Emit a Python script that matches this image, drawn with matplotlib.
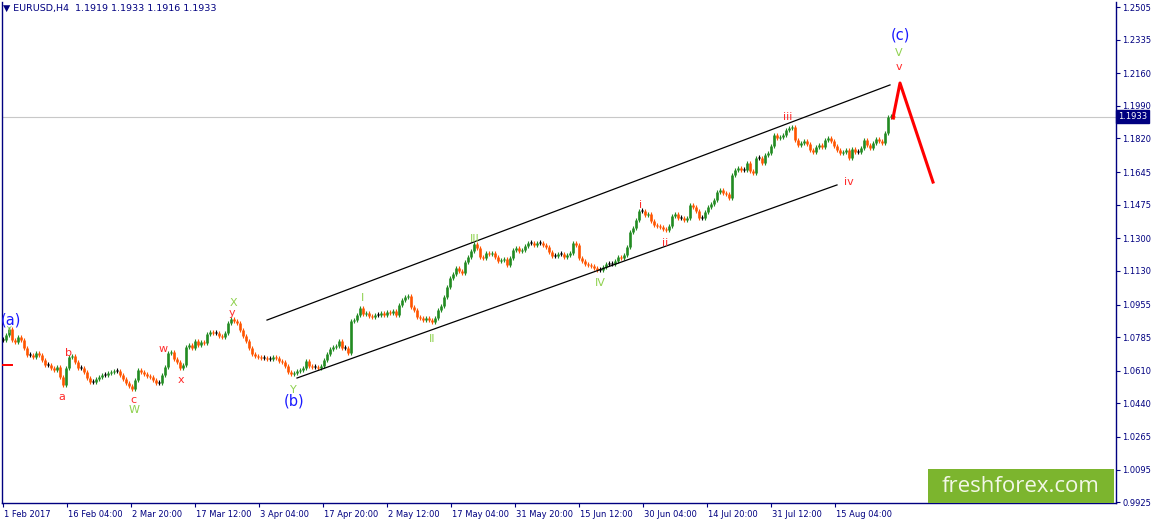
import numpy as np
import matplotlib
matplotlib.use('Agg')
import matplotlib.pyplot as plt
import matplotlib.transforms as mtransforms

# ── Datos (EURUSD H4, un valor cada 3 velas) ────────────────────────────
STEP = 3
closes = [
    1.0770, 1.0796, 1.0827, 1.0770, 1.0760, 1.0786, 1.0770, 1.0728, 1.0692, 1.0692,
    1.0682, 1.0702, 1.0692, 1.0666, 1.0640, 1.0640, 1.0624, 1.0614, 1.0629, 1.0577,
    1.0536, 1.0624, 1.0682, 1.0687, 1.0656, 1.0624, 1.0624, 1.0603, 1.0572, 1.0551,
    1.0551, 1.0567, 1.0577, 1.0588, 1.0588, 1.0598, 1.0603, 1.0609, 1.0609, 1.0588,
    1.0567, 1.0546, 1.0530, 1.0515, 1.0562, 1.0614, 1.0603, 1.0593, 1.0583, 1.0577,
    1.0562, 1.0546, 1.0546, 1.0588, 1.0629, 1.0702, 1.0708, 1.0671, 1.0656, 1.0624,
    1.0640, 1.0734, 1.0744, 1.0728, 1.0765, 1.0744, 1.0760, 1.0754, 1.0801, 1.0812,
    1.0807, 1.0807, 1.0791, 1.0786, 1.0807, 1.0859, 1.0880, 1.0869, 1.0859, 1.0822,
    1.0791, 1.0765, 1.0728, 1.0697, 1.0687, 1.0682, 1.0676, 1.0676, 1.0671, 1.0671,
    1.0682, 1.0676, 1.0661, 1.0656, 1.0635, 1.0603, 1.0593, 1.0598, 1.0609, 1.0614,
    1.0624, 1.0661, 1.0635, 1.0629, 1.0629, 1.0624, 1.0635, 1.0666, 1.0697, 1.0723,
    1.0734, 1.0739, 1.0765, 1.0728, 1.0728, 1.0702, 1.0869, 1.0874, 1.0900, 1.0937,
    1.0906, 1.0911, 1.0895, 1.0890, 1.0900, 1.0900, 1.0911, 1.0900, 1.0916, 1.0911,
    1.0921, 1.0900, 1.0952, 1.0979, 1.0994, 1.0999, 1.0942, 1.0926, 1.0890, 1.0885,
    1.0874, 1.0885, 1.0874, 1.0864, 1.0885, 1.0926, 1.0947, 1.0994, 1.1046, 1.1093,
    1.1114, 1.1145, 1.1130, 1.1119, 1.1176, 1.1203, 1.1234, 1.1270, 1.1249, 1.1203,
    1.1197, 1.1223, 1.1218, 1.1223, 1.1203, 1.1182, 1.1187, 1.1192, 1.1161, 1.1197,
    1.1239, 1.1249, 1.1234, 1.1239, 1.1260, 1.1276, 1.1276, 1.1265, 1.1276, 1.1276,
    1.1265, 1.1255, 1.1229, 1.1208, 1.1208, 1.1218, 1.1218, 1.1203, 1.1213, 1.1223,
    1.1276, 1.1265, 1.1197, 1.1182, 1.1166, 1.1161, 1.1156, 1.1145, 1.1135, 1.1135,
    1.1150, 1.1166, 1.1166, 1.1166, 1.1182, 1.1203, 1.1197, 1.1213, 1.1255, 1.1333,
    1.1354, 1.1395, 1.1442, 1.1442, 1.1421, 1.1427, 1.1390, 1.1369, 1.1364, 1.1359,
    1.1348, 1.1343, 1.1364, 1.1416, 1.1427, 1.1406, 1.1406, 1.1395, 1.1406, 1.1473,
    1.1463, 1.1442, 1.1406, 1.1406, 1.1437, 1.1463, 1.1479, 1.1500, 1.1541, 1.1552,
    1.1536, 1.1531, 1.1510, 1.1630, 1.1656, 1.1666, 1.1656, 1.1656, 1.1692, 1.1651,
    1.1640, 1.1718, 1.1718, 1.1692, 1.1734, 1.1744, 1.1781, 1.1838, 1.1823, 1.1828,
    1.1838, 1.1864, 1.1875, 1.1880, 1.1812, 1.1786, 1.1796, 1.1807, 1.1791, 1.1760,
    1.1750, 1.1776, 1.1786, 1.1776, 1.1812, 1.1823, 1.1807, 1.1781, 1.1760, 1.1744,
    1.1750, 1.1760, 1.1718, 1.1765, 1.1750, 1.1750, 1.1770, 1.1812, 1.1786, 1.1770,
    1.1796, 1.1817, 1.1807, 1.1796, 1.1849, 1.1932, 1.1937, 1.1933,
]
last_price = 1.1933
header = '\u25bc EURUSD,H4  1.1919 1.1933 1.1916 1.1933'

# eje X: una etiqueta cada 64 velas
date_labels = ['1 Feb 2017', '16 Feb 04:00', '2 Mar 20:00', '17 Mar 12:00',
               '3 Apr 04:00', '17 Apr 20:00', '2 May 12:00', '17 May 04:00',
               '31 May 20:00', '15 Jun 12:00', '30 Jun 04:00', '14 Jul 20:00',
               '31 Jul 12:00', '15 Aug 04:00']
BARS_PER_LABEL = 64
price_ticks = [1.2505, 1.2335, 1.2160, 1.1990, 1.1820, 1.1645, 1.1475, 1.1300,
               1.1130, 1.0955, 1.0785, 1.0610, 1.0440, 1.0265, 1.0095, 0.9925]

# canal (vela, precio)
channel_up = [(264, 1.0874), (887, 1.2099)]
channel_dn = [(294, 1.0572), (834, 1.1578)]
# proyección roja
forecast = [(890, 1.1927), (897, 1.2109), (930, 1.1593)]
left_mark = [(0, 1.0640), (9, 1.0640)]

# etiquetas de ondas: (texto, vela, precio, tipo)
waves = [
    ('(a)', 8, 1.0874, 'blue'), ('Y', 6, 1.0820, 'gs'),
    ('a', 59, 1.0473, 'red'), ('b', 65, 1.0702, 'red'),
    ('c', 130, 1.0455, 'red'), ('W', 131, 1.0403, 'green'),
    ('w', 160, 1.0723, 'red'), ('x', 178, 1.0562, 'red'),
    ('X', 230, 1.0965, 'green'), ('y', 229, 1.0911, 'red'),
    ('Y', 290, 1.0512, 'green'), ('(b)', 291, 1.0450, 'blue'),
    ('I', 359, 1.0989, 'green'), ('II', 429, 1.0775, 'green'),
    ('III', 472, 1.1296, 'green'), ('IV', 597, 1.1067, 'green'),
    ('i', 638, 1.1473, 'red'), ('ii', 662, 1.1276, 'red'),
    ('iii', 785, 1.1932, 'red'), ('iv', 846, 1.1593, 'red'),
    ('v', 896, 1.2192, 'red'), ('V', 896, 1.2265, 'green'),
    ('(c)', 897, 1.2359, 'blue'),
]

# ── Estilo ──────────────────────────────────────────────────────────
NAVY = '#000080'
UP, DOWN = '#228b22', '#ff5500'
WICK = 0.0011
WAVE_STYLE = {
    'blue':  dict(color='#1a1aff', fontsize=10.5),
    'red':   dict(color='#ff2a2a', fontsize=8),
    'green': dict(color='#8fd14f', fontsize=8),
    'gs':    dict(color='#8fd14f', fontsize=5.5),
}
W, H = 1155, 525
fig = plt.figure(figsize=(W / 100, H / 100), dpi=100)
fig.patch.set_facecolor('white')
ax = fig.add_axes([2 / W, 22 / H, 1114 / W, 501 / H])

closes = np.array(closes)
x = np.arange(len(closes)) * STEP
opens = np.r_[closes[0], closes[:-1]]
colors = np.where(closes > opens, UP, np.where(closes < opens, DOWN, 'black'))
lo = np.minimum(opens, closes)
hi = np.maximum(opens, closes)
hi = np.where(hi - lo < 0.0004, lo + 0.0004, hi)
# mechas finas + cuerpos
ax.vlines(x, lo - WICK, hi + WICK, colors=colors, lw=0.8, zorder=3)
ax.vlines(x, lo, hi, colors=colors, lw=1.9, zorder=3)

ax.axhline(last_price, color='#c8c8c8', lw=0.8, zorder=1)

for seg in (channel_up, channel_dn):
    xs, ys = zip(*seg)
    ax.plot(xs, ys, color='black', lw=0.9, zorder=4)
xs, ys = zip(*forecast)
ax.plot(xs, ys, color='#ff0000', lw=2.2, zorder=5)
xs, ys = zip(*left_mark)
ax.plot(xs, ys, color='#ff0000', lw=1.4, zorder=5)

for txt, bx, py, kind in waves:
    ax.text(bx, py, txt, ha='center', va='center', zorder=6, **WAVE_STYLE[kind])

ax.set_xlim(-1, 1113)
ax.set_ylim(0.99209, 1.25311)

ax.set_xticks(np.arange(len(date_labels)) * BARS_PER_LABEL)
ax.set_xticklabels(date_labels, ha='left', fontsize=6, color=NAVY)
ax.set_yticks(price_ticks)
ax.set_yticklabels([f'{p:.4f}' for p in price_ticks], fontsize=6, color=NAVY)
ax.yaxis.tick_right()
ax.tick_params(axis='both', direction='out', length=3, width=0.8, color=NAVY, pad=1.5)
ax.tick_params(axis='x', pad=2)
offset = mtransforms.ScaledTranslation(1 / 100, 0, fig.dpi_scale_trans)
for lab in ax.get_xticklabels():
    lab.set_transform(lab.get_transform() + offset)

for side in ('left', 'bottom', 'right'):
    ax.spines[side].set_color(NAVY)
    ax.spines[side].set_linewidth(1.0)
ax.spines['top'].set_visible(False)

# etiqueta del precio actual
trans = mtransforms.blended_transform_factory(ax.transAxes, ax.transData)
ax.text(1.0015, last_price, f'{last_price:.4f}', transform=trans, ha='left', va='center',
        fontsize=6, color='white', clip_on=False, zorder=7,
        bbox=dict(boxstyle='square,pad=0.25', facecolor=NAVY, edgecolor=NAVY))

# cabecera
fig.text(3 / W, 1 - 8 / H, header, ha='left', va='center', fontsize=6.8, color=NAVY)

# marca de agua
fig.patches.append(plt.Rectangle((928 / W, 22 / H), 186 / W, 34 / H,
                                 transform=fig.transFigure, facecolor='#7cb52e',
                                 edgecolor='none', zorder=8))
fig.text(1021 / W, 39 / H, 'freshforex.com', ha='center', va='center',
         fontsize=16, color='#f2f7e6', family='Open Sans', zorder=9)

plt.savefig('out.png', dpi=100)
plt.close()
